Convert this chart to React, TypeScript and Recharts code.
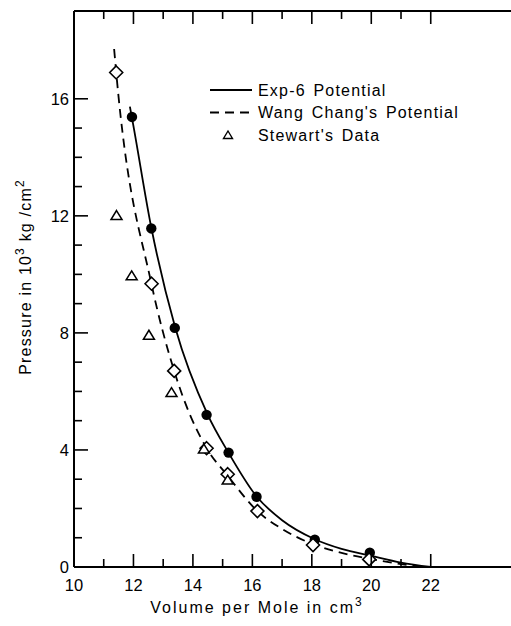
import React from 'react';
import { ComposedChart, Line, Scatter, XAxis, YAxis, Legend } from 'recharts';

const FONT = "'Liberation Sans', Arial, sans-serif";

// Smooth theoretical curves (volume cm^3, pressure 10^3 kg/cm^2)
const exp6Curve = [
  { x: 11.88, y: 15.73 },
  { x: 11.95, y: 15.35 },
  { x: 12.6, y: 11.6 },
  { x: 13.4, y: 8.2 },
  { x: 14.5, y: 5.2 },
  { x: 15.2, y: 3.9 },
  { x: 16.15, y: 2.4 },
  { x: 17.0, y: 1.6 },
  { x: 18.1, y: 0.95 },
  { x: 19.0, y: 0.62 },
  { x: 20.0, y: 0.38 },
  { x: 21.0, y: 0.15 },
  { x: 22.0, y: 0.0 },
];

const wangCurve = [
  { x: 11.35, y: 17.7 },
  { x: 11.42, y: 16.9 },
  { x: 12.6, y: 9.7 },
  { x: 13.37, y: 6.7 },
  { x: 14.46, y: 4.06 },
  { x: 15.17, y: 3.12 },
  { x: 16.17, y: 1.91 },
  { x: 17.0, y: 1.3 },
  { x: 18.04, y: 0.78 },
  { x: 19.0, y: 0.48 },
  { x: 20.0, y: 0.27 },
  { x: 21.0, y: 0.1 },
  { x: 21.8, y: 0.0 },
];

const exp6Points = [
  { x: 11.95, y: 15.38 },
  { x: 12.6, y: 11.57 },
  { x: 13.39, y: 8.17 },
  { x: 14.46, y: 5.2 },
  { x: 15.2, y: 3.91 },
  { x: 16.14, y: 2.4 },
  { x: 18.1, y: 0.93 },
  { x: 19.95, y: 0.49 },
];

const wangPoints = [
  { x: 11.42, y: 16.9 },
  { x: 12.61, y: 9.68 },
  { x: 13.37, y: 6.7 },
  { x: 14.46, y: 4.06 },
  { x: 15.17, y: 3.17 },
  { x: 16.17, y: 1.91 },
  { x: 18.04, y: 0.75 },
  { x: 19.93, y: 0.26 },
];

const stewartPoints = [
  { x: 11.43, y: 12.01 },
  { x: 11.94, y: 9.95 },
  { x: 12.52, y: 7.92 },
  { x: 13.28, y: 5.96 },
  { x: 14.37, y: 4.03 },
  { x: 15.17, y: 2.97 },
];

const xTicks = [10, 11, 12, 13, 14, 15, 16, 17, 18, 19, 20, 21, 22];
const xTopTicks = [11, 12, 13, 14, 15, 16, 17, 18, 19, 20, 21, 22];
const Y_MAX = 19;
const yTicks = [0, 1, 2, 3, 4, 5, 6, 7, 8, 9, 10, 11, 12, 13, 14, 15, 16, Y_MAX];
const X_MIN = 10;
const X_MAX = 24.7;

const CHART_W = 511;
const PLOT_LEFT = 74;
const PLOT_W = CHART_W - PLOT_LEFT;

const legendItems = [
  { label: 'Exp-6 Potential', kind: 'solid' },
  { label: "Wang Chang's Potential", kind: 'dashed' },
  { label: "Stewart's Data", kind: 'triangle' },
];

const BottomTick = (props: any) => {
  const { x, y, payload } = props;
  const v = payload.value;
  const major = v % 2 === 0;
  return (
    <g>
      <line x1={x} y1={y} x2={x} y2={y - (major ? 13 : 8)} stroke="#000" strokeWidth={1.6} />
      {major && (
        <text x={x} y={y + 24} textAnchor="middle" fontSize={16.5} fontFamily={FONT} fill="#000">
          {v}
        </text>
      )}
    </g>
  );
};

// Left ticks; the tick at the top of the domain draws the top frame with its inward ticks
const LeftTick = (props: any) => {
  const { x, y, payload } = props;
  const v = payload.value;
  if (v === Y_MAX) {
    const sx = (t: number) => x + ((t - X_MIN) / (X_MAX - X_MIN)) * PLOT_W;
    return (
      <g>
        <line x1={x} y1={y} x2={x + PLOT_W} y2={y} stroke="#000" strokeWidth={1.8} />
        {xTopTicks.map((t) => (
          <line key={t} x1={sx(t)} y1={y} x2={sx(t)} y2={y + (t % 2 === 0 ? 13 : 8)} stroke="#000" strokeWidth={1.6} />
        ))}
      </g>
    );
  }
  const major = v % 4 === 0;
  return (
    <g>
      <line x1={x} y1={y} x2={x + (major ? 14 : 8)} y2={y} stroke="#000" strokeWidth={1.6} />
      {major && (
        <text x={x - 5} y={y + 6} textAnchor="end" fontSize={16.5} fontFamily={FONT} fill="#000">
          {v}
        </text>
      )}
    </g>
  );
};

const Dot = (props: any) => {
  const { cx, cy } = props;
  return <circle cx={cx} cy={cy} r={5.2} fill="#000" stroke="none" />;
};

const Diamond = (props: any) => {
  const { cx, cy } = props;
  const r = 6.5;
  return (
    <path
      d={`M${cx},${cy - r} L${cx + r},${cy} L${cx},${cy + r} L${cx - r},${cy} Z`}
      fill="#fff"
      stroke="#000"
      strokeWidth={1.6}
    />
  );
};

const Triangle = (props: any) => {
  const { cx, cy } = props;
  return (
    <path
      d={`M${cx},${cy - 5} L${cx + 5.5},${cy + 4} L${cx - 5.5},${cy + 4} Z`}
      fill="#fff"
      stroke="#000"
      strokeWidth={1.5}
    />
  );
};

const LegendContent = () => (
  <svg width={290} height={70} style={{ display: 'block', overflow: 'visible' }}>
    {legendItems.map((it, i) => {
      const y = 10 + i * 22.5;
      return (
        <g key={it.label}>
          {it.kind === 'solid' && <line x1={5} y1={y} x2={47} y2={y} stroke="#000" strokeWidth={1.8} />}
          {it.kind === 'dashed' && (
            <line x1={5} y1={y} x2={47} y2={y} stroke="#000" strokeWidth={1.8} strokeDasharray="9 6" />
          )}
          {it.kind === 'triangle' && (
            <path d={`M23,${y - 4} L27.5,${y + 3.5} L18.5,${y + 3.5} Z`} fill="#fff" stroke="#000" strokeWidth={1.4} />
          )}
          <text x={53} y={y + 5.5} fontSize={16} fontFamily={FONT} fill="#000" letterSpacing={1.2} wordSpacing={2}>
            {it.label}
          </text>
        </g>
      );
    })}
  </svg>
);

const YLabel = () => (
  <text
    transform="translate(31,277) rotate(-90)"
    textAnchor="middle"
    fontSize={16}
    fontFamily={FONT}
    fill="#000"
    letterSpacing={1.2}
  >
    Pressure in 10
    <tspan dy={-7} fontSize={12}>3</tspan>
    <tspan dy={7}> kg /cm</tspan>
    <tspan dy={-7} fontSize={12}>2</tspan>
  </text>
);

const XLabel = () => (
  <text x={257} y={613} textAnchor="middle" fontSize={16} fontFamily={FONT} fill="#000" letterSpacing={2}>
    Volume per Mole in cm
    <tspan dy={-7} fontSize={12}>3</tspan>
  </text>
);

export default function App() {
  return (
    <div style={{ position: 'absolute', left: 0, top: 0, width: CHART_W, height: 626, background: '#fff' }}>
      <ComposedChart
        width={CHART_W}
        height={626}
        margin={{ top: 11, right: 0, left: 14, bottom: 19 }}
        style={{ fontFamily: FONT }}
      >
        <XAxis
          type="number"
          dataKey="x"
          domain={[X_MIN, X_MAX]}
          ticks={xTicks}
          interval={0}
          tickLine={false}
          tickSize={0}
          tickMargin={0}
          height={40}
          axisLine={{ stroke: '#000', strokeWidth: 2 }}
          tick={<BottomTick />}
          label={<XLabel />}
        />
        <YAxis
          type="number"
          domain={[0, Y_MAX]}
          ticks={yTicks}
          interval={0}
          tickLine={false}
          tickSize={0}
          tickMargin={0}
          width={60}
          axisLine={{ stroke: '#000', strokeWidth: 2 }}
          tick={<LeftTick />}
          label={<YLabel />}
        />
        <Legend
          layout="vertical"
          align="center"
          verticalAlign="middle"
          content={<LegendContent />}
          wrapperStyle={{ position: 'absolute', left: 205, top: 80, width: 290, height: 70 }}
        />
        <Line
          data={exp6Curve}
          dataKey="y"
          type="monotone"
          stroke="#000"
          strokeWidth={1.8}
          dot={false}
          activeDot={false}
          isAnimationActive={false}
          legendType="none"
        />
        <Line
          data={wangCurve}
          dataKey="y"
          type="monotone"
          stroke="#000"
          strokeWidth={1.8}
          strokeDasharray="9 6"
          dot={false}
          activeDot={false}
          isAnimationActive={false}
          legendType="none"
        />
        <Scatter data={exp6Points} dataKey="y" shape={<Dot />} isAnimationActive={false} legendType="none" />
        <Scatter data={wangPoints} dataKey="y" shape={<Diamond />} isAnimationActive={false} legendType="none" />
        <Scatter data={stewartPoints} dataKey="y" shape={<Triangle />} isAnimationActive={false} legendType="none" />
      </ComposedChart>
    </div>
  );
}
